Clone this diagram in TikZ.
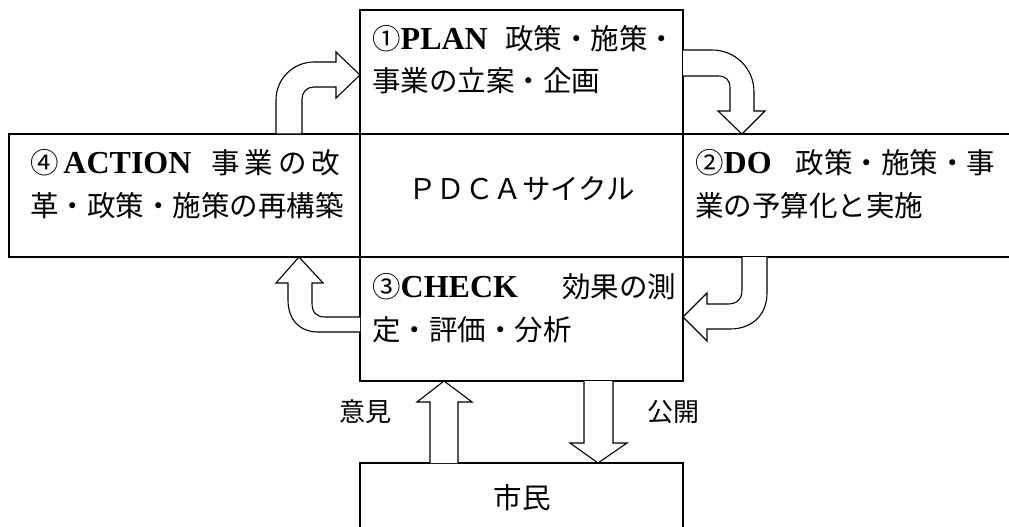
\documentclass[tikz,border=0pt]{standalone}
\usepackage{fontspec}
\setmainfont{Liberation Serif}
\newfontfamily\jp{Noto Sans CJK JP}
\newcommand{\latin}[1]{{\rmfamily\bfseries\fontsize{32}{32}\selectfont #1}}

\begin{document}
\begin{tikzpicture}[x=1pt,y=-1pt,
    frame/.style={draw=black,line width=1.1pt},
    blockarrow/.style={draw=black,fill=white,line width=1.1pt,line join=miter},
    label/.style={anchor=base west,inner sep=0pt,font=\jp\fontsize{28.5}{28.5}\selectfont},
    small/.style={anchor=base,inner sep=0pt,font=\jp\fontsize{26}{26}\selectfont}]
    \useasboundingbox (0,0) rectangle (1009,527);

    % boxes
    \draw[frame] (360,10) rectangle (683,134);
    \draw[frame] (9,134) rectangle (360,257);
    \draw[frame] (360,134) rectangle (683,257);
    \draw[frame] (683,134) rectangle (1015,257);
    \draw[frame] (360,257) rectangle (683,381);
    \draw[frame] (360,463) rectangle (683,535);

    % texts
    \node[label] (plan1) at (372,49) {\makebox[304pt][s]{①\latin{PLAN}\hfill 政策・施策・}};
    \node[label] (plan2) at (372,91) {事業の立案・企画};

    \node[label] (action1) at (30,173) {\makebox[310pt][s]{④\,\latin{ACTION}\hspace{20pt}事\hfill 業\hfill の\hfill 改}};
    \node[label] (action2) at (30,216) {革・政策・施策の再構築};

    \node[label,anchor=base] (cycle) at (521.5,199) {ＰＤＣＡサイクル};

    \node[label] (do1) at (695,173) {\makebox[300pt][s]{②\latin{DO}\hfill 政策・施策・事}};
    \node[label] (do2) at (695,216) {業の予算化と実施};

    \node[label] (check1) at (372,297) {\makebox[304pt][s]{③\latin{CHECK}\hfill 効果の測}};
    \node[label] (check2) at (372,340) {定・評価・分析};

    \node[label,anchor=base] (citizen) at (522,508) {市民};
    \node[small] (opinion) at (365,421) {意見};
    \node[small] (publish) at (673,421) {公開};

    % bent arrows round the cycle
    \draw[blockarrow] (276,134) -- (276,100) .. controls (276,79) and (293,62) .. (314,62) -- (336,62) -- (336,52) -- (360,75) -- (336,98) -- (336,87) -- (314,87) .. controls (307,87) and (302,92) .. (302,99) -- (302,134) -- cycle;
    \draw[blockarrow] (683,50) -- (712,50) .. controls (735,50) and (754,68) .. (754,92) -- (754,111) -- (765,111) -- (742,134) -- (718,111) -- (730,111) -- (730,88) .. controls (730,80) and (726,76) .. (718,76) -- (683,76);
    \draw[blockarrow] (742,257) -- (742,290) .. controls (742,299) and (737,304) .. (728,304) -- (707,304) -- (707,293) -- (683,317) -- (707,341) -- (707,329) -- (730,329) .. controls (752,329) and (767,315) .. (767,293) -- (767,257);
    \draw[blockarrow] (360,317) -- (325,317) .. controls (316,317) and (312,312) .. (312,303) -- (312,283) -- (323,283) -- (299,257) -- (276,283) -- (288,283) -- (288,300) .. controls (288,320) and (300,332) .. (318,332) -- (360,332);

    % arrows to and from the citizens
    \draw[blockarrow] (430,463) -- (430,402) -- (417,402) -- (444,381) -- (472,402) -- (458,402) -- (458,463);
    \draw[blockarrow] (584,381) -- (584,443) -- (570,443) -- (598,463) -- (627,443) -- (613,443) -- (613,381);
\end{tikzpicture}
\end{document}
